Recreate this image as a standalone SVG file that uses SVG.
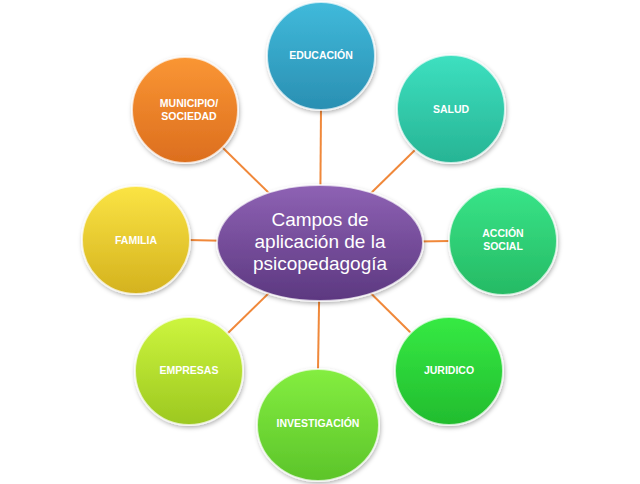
<svg xmlns="http://www.w3.org/2000/svg" width="640" height="484" viewBox="0 0 640 484">
<defs>
<linearGradient id="gEdu" x1="0" y1="0" x2="0" y2="1"><stop offset="0" stop-color="#40BADB"/><stop offset="1" stop-color="#2A8FB2"/></linearGradient>
<linearGradient id="gSal" x1="0" y1="0" x2="0" y2="1"><stop offset="0" stop-color="#3DE0C0"/><stop offset="1" stop-color="#27B494"/></linearGradient>
<linearGradient id="gAcc" x1="0" y1="0" x2="0" y2="1"><stop offset="0" stop-color="#38E488"/><stop offset="1" stop-color="#26BA64"/></linearGradient>
<linearGradient id="gJur" x1="0" y1="0" x2="0" y2="1"><stop offset="0" stop-color="#36EA44"/><stop offset="1" stop-color="#22BC2E"/></linearGradient>
<linearGradient id="gInv" x1="0" y1="0" x2="0" y2="1"><stop offset="0" stop-color="#84EE40"/><stop offset="1" stop-color="#5CC42A"/></linearGradient>
<linearGradient id="gEmp" x1="0" y1="0" x2="0" y2="1"><stop offset="0" stop-color="#CDF53E"/><stop offset="1" stop-color="#9CC820"/></linearGradient>
<linearGradient id="gFam" x1="0" y1="0" x2="0" y2="1"><stop offset="0" stop-color="#FBE444"/><stop offset="1" stop-color="#D4B21E"/></linearGradient>
<linearGradient id="gMun" x1="0" y1="0" x2="0" y2="1"><stop offset="0" stop-color="#FA9634"/><stop offset="1" stop-color="#DC6E1E"/></linearGradient>
<linearGradient id="gCen" x1="0" y1="0" x2="0" y2="1"><stop offset="0" stop-color="#8E62B4"/><stop offset="1" stop-color="#5C3880"/></linearGradient>
<filter id="sh" x="-20%" y="-20%" width="140%" height="140%"><feDropShadow dx="1" dy="2" stdDeviation="2" flood-color="#000" flood-opacity="0.3"/></filter>
</defs>
<style>
.node{filter:url(#sh);stroke:#ffffff;stroke-opacity:0.7;stroke-width:2}
.lbl{font-family:"Liberation Sans",Arial,sans-serif;font-weight:bold;font-size:10.5px;fill:#ffffff;text-anchor:middle}
.ctr{font-family:"Liberation Sans",Arial,sans-serif;font-size:19px;fill:#ffffff;text-anchor:middle}
.conn line{stroke:#F0883A;stroke-width:2}
</style>
<rect width="640" height="484" fill="#ffffff"/>
<g id="connectors" class="conn">
<line x1="320" y1="243" x2="321" y2="108"/>
<line x1="320" y1="243" x2="415" y2="150"/>
<line x1="320" y1="243" x2="450" y2="241"/>
<line x1="320" y1="243" x2="412" y2="334"/>
<line x1="320" y1="243" x2="318" y2="370"/>
<line x1="320" y1="243" x2="227" y2="334"/>
<line x1="320" y1="243" x2="188" y2="240"/>
<line x1="320" y1="243" x2="222" y2="147"/>
</g>
<g id="educacion"><circle class="node" cx="321" cy="56" r="54" fill="url(#gEdu)"/><text class="lbl" x="321" y="59">EDUCACIÓN</text></g>
<g id="salud"><circle class="node" cx="451" cy="109" r="54" fill="url(#gSal)"/><text class="lbl" x="451" y="113">SALUD</text></g>
<g id="accion-social"><circle class="node" cx="503" cy="241" r="54" fill="url(#gAcc)"/><text class="lbl" x="503" y="237">ACCIÓN</text><text class="lbl" x="503" y="250">SOCIAL</text></g>
<g id="juridico"><circle class="node" cx="449" cy="371" r="54" fill="url(#gJur)"/><text class="lbl" x="449" y="374">JURIDICO</text></g>
<g id="investigacion"><ellipse class="node" cx="318" cy="425" rx="61" ry="56" fill="url(#gInv)"/><text class="lbl" x="318" y="427">INVESTIGACIÓN</text></g>
<g id="empresas"><circle class="node" cx="189" cy="371" r="54" fill="url(#gEmp)"/><text class="lbl" x="189" y="374">EMPRESAS</text></g>
<g id="familia"><circle class="node" cx="136" cy="240" r="54" fill="url(#gFam)"/><text class="lbl" x="136" y="244">FAMILIA</text></g>
<g id="municipio"><circle class="node" cx="185" cy="110" r="53" fill="url(#gMun)"/><text class="lbl" x="189" y="107">MUNICIPIO/</text><text class="lbl" x="189" y="120">SOCIEDAD</text></g>
<g id="centro"><ellipse class="node" cx="320" cy="243" rx="103" ry="58" fill="url(#gCen)"/>
<text class="ctr" x="320" y="226">Campos de</text><text class="ctr" x="320" y="248">aplicación de la</text><text class="ctr" x="320" y="270">psicopedagogía</text></g>
</svg>
